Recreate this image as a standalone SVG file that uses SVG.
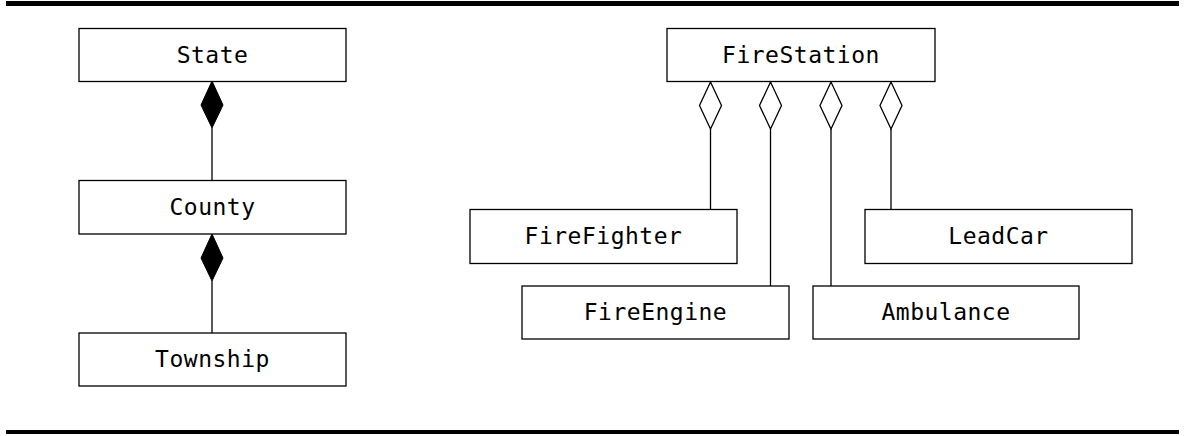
<svg xmlns="http://www.w3.org/2000/svg" width="1185" height="436" viewBox="0 0 1185 436">
  <style>
    .box { fill: #fff; stroke: #000; stroke-width: 1.3; }
    .lbl { font-family: "DejaVu Sans Mono", "Liberation Mono", monospace; font-size: 23px; letter-spacing: 0.5px; text-anchor: middle; fill: #000; }
    .link { stroke: #000; stroke-width: 1.3; fill: none; }
    .comp { fill: #000; stroke: #000; stroke-width: 1; }
    .aggr { fill: #fff; stroke: #000; stroke-width: 1.3; }
  </style>

  <!-- horizontal rules -->
  <rect x="6" y="1" width="1173" height="5" fill="#000"/>
  <rect x="6" y="430" width="1173" height="4" fill="#000"/>

  <!-- connectors -->
  <g id="connectors">
    <!-- composition: State <>- County <>- Township -->
    <line class="link" x1="212" y1="128" x2="212" y2="180"/>
    <polygon class="comp" points="212,81 223,105 212,128 201,105"/>
    <line class="link" x1="212" y1="281" x2="212" y2="333"/>
    <polygon class="comp" points="212,234 223,258 212,281 201,258"/>

    <!-- aggregation: FireStation <>- parts -->
    <line class="link" x1="710.5" y1="129" x2="710.5" y2="209"/>
    <polygon class="aggr" points="710.5,82 721.5,105.5 710.5,129 699.5,105.5"/>
    <line class="link" x1="770.5" y1="129" x2="770.5" y2="286"/>
    <polygon class="aggr" points="770.5,82 781.5,105.5 770.5,129 759.5,105.5"/>
    <line class="link" x1="831" y1="129" x2="831" y2="286"/>
    <polygon class="aggr" points="831,82 842,105.5 831,129 820,105.5"/>
    <line class="link" x1="891" y1="129" x2="891" y2="209"/>
    <polygon class="aggr" points="891,82 902,105.5 891,129 880,105.5"/>
  </g>

  <g id="state">
    <rect class="box" x="79" y="28.5" width="267" height="53"/>
    <text class="lbl" x="212.5" y="63">State</text>
  </g>
  <g id="county">
    <rect class="box" x="79" y="180.5" width="267" height="53.5"/>
    <text class="lbl" x="212.5" y="215">County</text>
  </g>
  <g id="township">
    <rect class="box" x="79" y="333" width="267" height="53"/>
    <text class="lbl" x="212.5" y="367">Township</text>
  </g>

  <g id="firestation">
    <rect class="box" x="667" y="28.5" width="268" height="53"/>
    <text class="lbl" x="801" y="63">FireStation</text>
  </g>
  <g id="firefighter">
    <rect class="box" x="470" y="209.5" width="267" height="54"/>
    <text class="lbl" x="603.5" y="244">FireFighter</text>
  </g>
  <g id="fireengine">
    <rect class="box" x="522" y="286" width="267" height="53"/>
    <text class="lbl" x="655.5" y="320">FireEngine</text>
  </g>
  <g id="ambulance">
    <rect class="box" x="813" y="286" width="266" height="53"/>
    <text class="lbl" x="946" y="320">Ambulance</text>
  </g>
  <g id="leadcar">
    <rect class="box" x="865" y="209.5" width="267" height="54"/>
    <text class="lbl" x="998.5" y="244">LeadCar</text>
  </g>
</svg>
